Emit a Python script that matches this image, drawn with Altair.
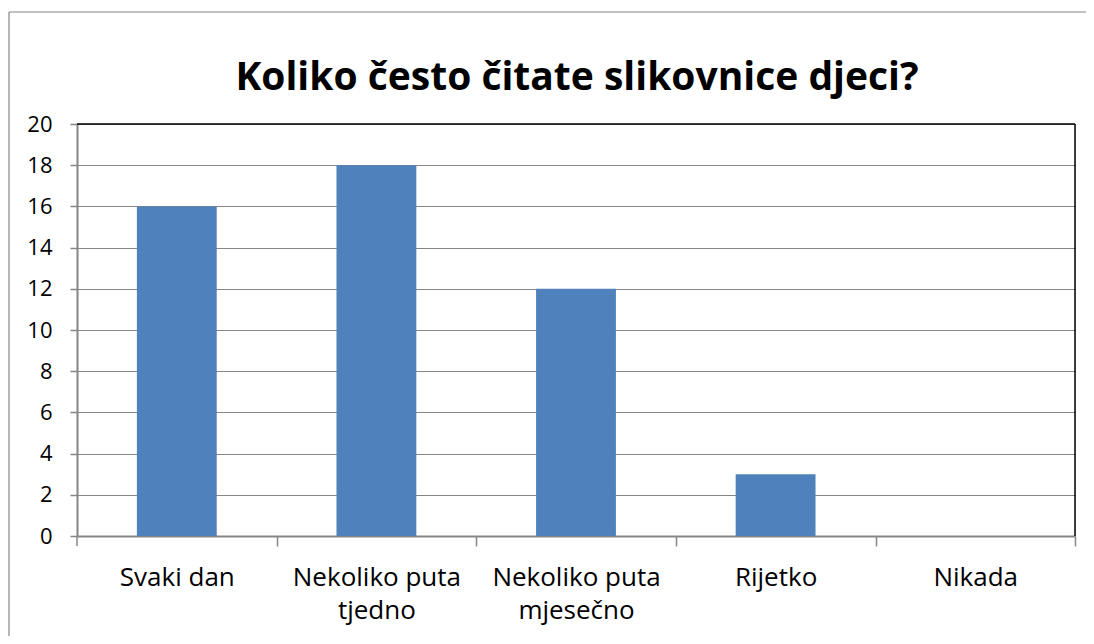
import altair as alt
import pandas as pd

categories = ["Svaki dan", "Nekoliko puta\ntjedno", "Nekoliko puta\nmjesečno", "Rijetko", "Nikada"]
values = [16, 18, 12, 3, 0]
title_text = "Koliko često čitate slikovnice djeci?"

df = pd.DataFrame({"cat": categories, "val": values})

GRAY = "#868686"
FONT = "Open Sans"

bars = alt.Chart(df).mark_bar(color="#4F81BD").encode(
    x=alt.X("cat:N", sort=categories,
            scale=alt.Scale(paddingInner=0.6, paddingOuter=0.3),
            axis=alt.Axis(title=None, labelAngle=0, domainColor=GRAY, domainWidth=2,
                          tickColor=GRAY, tickWidth=1.5, tickSize=10,
                          bandPosition=1, tickExtra=False, tickOffset=60, labelOffset=-60,
                          labelFontSize=26, labelFont=FONT, labelColor="black",
                          labelPadding=18, labelBaseline="top", labelLineHeight=33,
                          labelExpr="split(datum.label, '\\n')")),
    y=alt.Y("val:Q", scale=alt.Scale(domain=[0, 20], nice=False),
            axis=alt.Axis(title=None, values=list(range(0, 21, 2)), domainColor=GRAY,
                          domainWidth=2, tickColor=GRAY, tickWidth=1.5, tickSize=7,
                          gridColor=GRAY, gridWidth=1, labelFontSize=22, labelFont=FONT,
                          labelColor="black", labelPadding=18)),
)

frame_df = pd.DataFrame({"k": [0]})
left_tick = alt.Chart(frame_df).mark_rule(color=GRAY, strokeWidth=1.5).encode(
    x=alt.value(0), y=alt.value(412), y2=alt.value(422))
top_line = alt.Chart(frame_df).mark_rule(color="black", strokeWidth=1.5).encode(
    x=alt.value(0), x2=alt.value(998), y=alt.value(0))
right_line = alt.Chart(frame_df).mark_rule(color="black", strokeWidth=1.5).encode(
    x=alt.value(998), y=alt.value(0), y2=alt.value(412))
left_border = alt.Chart(frame_df).mark_rule(color=GRAY, strokeWidth=1.2).encode(
    x=alt.value(-68), y=alt.value(-112), y2=alt.value(520))
top_border = alt.Chart(frame_df).mark_rule(color=GRAY, strokeWidth=1.2).encode(
    x=alt.value(-68), x2=alt.value(1040), y=alt.value(-112))
title = alt.Chart(frame_df).mark_text(
    text=title_text, font=FONT, fontSize=39, fontWeight="bold", color="black",
    align="center", baseline="alphabetic").encode(x=alt.value(500), y=alt.value(-34))

chart = alt.layer(bars, left_tick, top_line, right_line, left_border, top_border, title).properties(
    width=998, height=412,
    autosize=alt.AutoSizeParams(type="none"),
    padding={"left": 69, "top": 116, "right": 11, "bottom": 100},
).configure_view(stroke=None).configure(background="white")

chart.save("out.html", embed_options={"renderer": "svg", "actions": False})
